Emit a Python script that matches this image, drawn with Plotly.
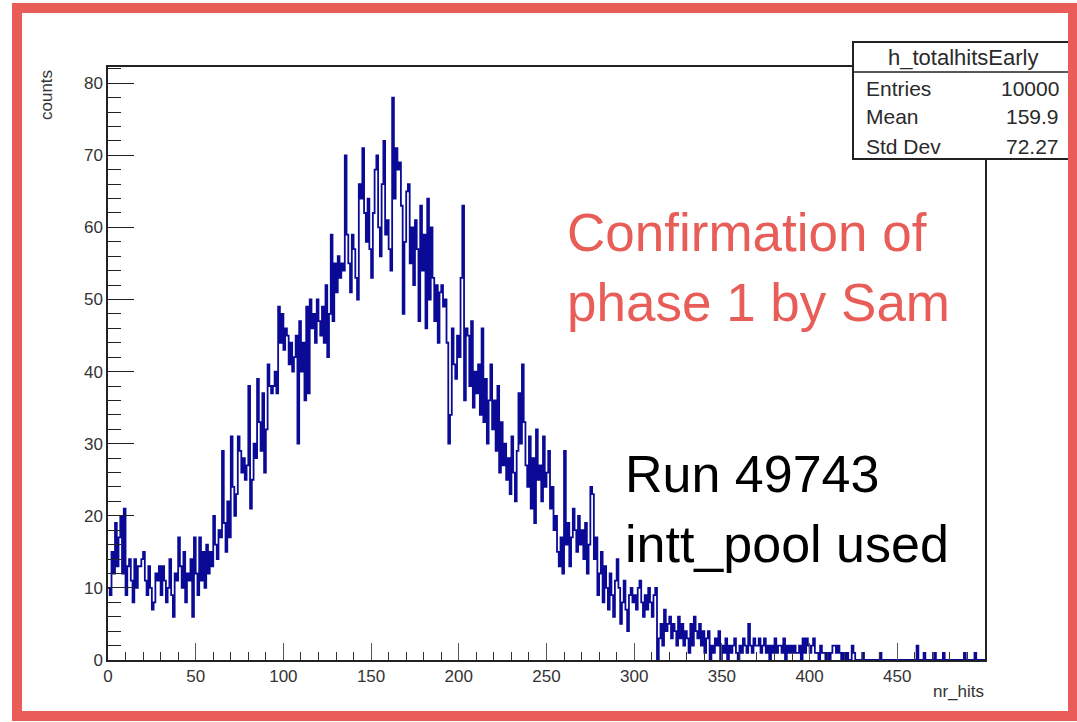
import numpy as np
import plotly.graph_objects as go

# Histogram h_totalhitsEarly: 500 bins of width 1 over nr_hits in [0, 500)
BIN_WIDTH = 1
counts = (
    [10, 9, 15, 12, 19, 13, 17, 20, 12, 21]
    + [9, 13, 14, 11, 8, 14, 10, 13, 13, 14]
    + [15, 11, 9, 13, 10, 7, 8, 12, 11, 13]
    + [9, 13, 11, 8, 10, 14, 9, 6, 12, 11]
    + [17, 13, 10, 15, 8, 12, 11, 14, 6, 17]
    + [12, 9, 17, 11, 15, 10, 16, 12, 15, 13]
    + [20, 16, 14, 18, 17, 29, 19, 15, 22, 17]
    + [31, 24, 20, 23, 31, 29, 26, 28, 25, 27]
    + [38, 21, 25, 30, 28, 39, 33, 29, 37, 26]
    + [32, 41, 38, 37, 38, 40, 37, 49, 44, 48]
    + [43, 46, 45, 41, 44, 40, 42, 45, 30, 47]
    + [40, 44, 36, 49, 37, 50, 46, 48, 44, 50]
    + [47, 45, 49, 44, 52, 42, 48, 59, 47, 55]
    + [51, 56, 53, 55, 54, 70, 59, 55, 51, 59]
    + [57, 53, 50, 66, 64, 71, 62, 58, 64, 57]
    + [53, 62, 68, 70, 60, 56, 66, 72, 59, 61]
    + [57, 54, 78, 64, 71, 68, 69, 63, 48, 58]
    + [65, 66, 55, 60, 52, 61, 57, 47, 63, 54]
    + [59, 46, 64, 50, 60, 53, 47, 52, 44, 51]
    + [52, 49, 50, 44, 30, 34, 46, 41, 39, 45]
    + [42, 53, 63, 36, 46, 45, 38, 47, 35, 40]
    + [37, 41, 34, 46, 33, 39, 30, 36, 41, 32]
    + [36, 29, 38, 26, 33, 27, 30, 25, 28, 23]
    + [31, 26, 22, 29, 37, 30, 41, 33, 27, 24]
    + [31, 21, 28, 19, 32, 25, 27, 22, 31, 24]
    + [26, 29, 21, 24, 18, 20, 15, 13, 17, 12]
    + [29, 16, 19, 13, 17, 21, 18, 15, 20, 16]
    + [18, 14, 19, 12, 16, 24, 23, 14, 17, 9]
    + [12, 15, 8, 13, 10, 7, 12, 9, 6, 11]
    + [14, 10, 5, 8, 11, 7, 4, 9, 10, 8]
    + [9, 7, 10, 11, 8, 6, 9, 7, 10, 8]
    + [6, 9, 10, 0, 3, 5, 2, 7, 4, 5]
    + [6, 3, 5, 4, 2, 6, 3, 5, 2, 4]
    + [3, 1, 5, 2, 6, 4, 3, 5, 2, 4]
    + [1, 3, 4, 0, 2, 1, 3, 2, 4, 0]
    + [2, 1, 3, 0, 2, 1, 2, 3, 1, 0]
    + [2, 1, 3, 2, 1, 5, 2, 1, 3, 2]
    + [2, 3, 1, 2, 3, 1, 2, 0, 2, 1]
    + [3, 1, 2, 2, 1, 3, 0, 2, 1, 2]
    + [1, 2, 1, 1, 2, 0, 3, 1, 3, 2]
    + [1, 2, 3, 1, 1, 0, 2, 1, 1, 0]
    + [1, 0, 1, 2, 2, 1, 2, 1, 0, 1]
    + [0, 1, 0, 0, 2, 1, 0, 0, 0, 0]
    + [1, 0, 0, 0, 0, 0, 0, 0, 0, 0]
    + [1, 0, 0, 0, 0, 0, 0, 0, 0, 0]
    + [0, 0, 0, 0, 0, 0, 0, 0, 0, 0]
    + [0, 2, 0, 0, 0, 1, 0, 0, 0, 0]
    + [0, 1, 0, 0, 0, 0, 1, 0, 0, 0]
    + [0, 0, 0, 0, 0, 0, 0, 0, 1, 0]
    + [0, 0, 0, 0, 1, 0, 0, 0, 0, 0]
)

x_ticks = [0, 50, 100, 150, 200, 250, 300, 350, 400, 450]
y_ticks = [0, 10, 20, 30, 40, 50, 60, 70, 80]

stats_title = "h_totalhitsEarly"
stats_labels = ["Entries", "Mean", "Std Dev"]
stats_values = ["10000", "159.9", "72.27"]

note_red = ["Confirmation of", "phase 1 by Sam"]
note_black = ["Run 49743", "intt_pool used"]

# Page geometry (pixels)
W, H = 1077, 722
L, R, T, B = 108, 985, 67, 660
PW, PH = R - L, B - T

def fx(px):
    return (px - L) / PW

def fy(py):
    return (B - py) / PH

FONT = "Liberation Sans, Arial, Helvetica, sans-serif"
RED = "#e85d57"
HIST_BLUE = "#0a0a96"
INK = "#2a2a2a"

nbins = len(counts)
edges = np.arange(nbins + 1) * BIN_WIDTH
y_step = list(counts) + [counts[-1]]

fig = go.Figure()
fig.add_trace(go.Scatter(
    x=edges, y=y_step, mode="lines", line_shape="hv",
    line=dict(color=HIST_BLUE, width=1.8), hoverinfo="skip", showlegend=False,
))

fig.update_layout(
    width=W, height=H,
    margin=dict(l=L, r=W - R, t=T, b=H - B),
    paper_bgcolor="white", plot_bgcolor="white",
    font=dict(family=FONT, color=INK),
    xaxis=dict(
        range=[0, nbins * BIN_WIDTH], tickvals=x_ticks,
        ticks="inside", ticklen=17, tickcolor="#555", tickwidth=1,
        minor=dict(dtick=10, ticks="inside", ticklen=8, tickcolor="#333"),
        showline=True, linecolor="#222", linewidth=1.5, mirror=True,
        showgrid=False, zeroline=False,
        tickfont=dict(size=17, color="#333"),
    ),
    yaxis=dict(
        range=[0, (B - T) / 7.21], tickvals=y_ticks,
        ticks="inside", ticklen=26, tickcolor="#222", tickwidth=1,
        minor=dict(dtick=2, ticks="inside", ticklen=13, tickcolor="#222"),
        showline=True, linecolor="#222", linewidth=1.5, mirror=True,
        showgrid=False, zeroline=False,
        tickfont=dict(size=17, color="#333"),
    ),
)

annotations = [
    dict(text="counts", textangle=-90, x=fx(47), y=fy(68), xanchor="center",
         yanchor="top", font=dict(size=17, color="#333")),
    dict(text="nr_hits", x=fx(986), y=fy(680), xanchor="right", yanchor="top",
         font=dict(size=17, color="#333")),
]

# Stats box
bx0, bx1, by0, by1, bsep = 853, 1072, 42, 159, 72
fig.add_shape(type="rect", xref="paper", yref="paper",
              x0=fx(bx0), x1=fx(bx1), y0=fy(by1), y1=fy(by0),
              fillcolor="white", line=dict(color="#222", width=2), layer="above")
fig.add_shape(type="line", xref="paper", yref="paper",
              x0=fx(bx0), x1=fx(bx1), y0=fy(bsep), y1=fy(bsep),
              line=dict(color="#222", width=1.5), layer="above")
annotations.append(dict(text=stats_title, x=fx((bx0 + bx1) / 2), y=fy(57),
                        xanchor="center", yanchor="middle",
                        font=dict(size=22, color=INK)))
for i, (lab, val) in enumerate(zip(stats_labels, stats_values)):
    yy = fy(88 + 29 * i)
    annotations.append(dict(text=lab, x=fx(864), y=yy, xanchor="left",
                            yanchor="middle", font=dict(size=21, color=INK)))
    annotations.append(dict(text=val, x=fx(1061), y=yy, xanchor="right",
                            yanchor="middle", font=dict(size=21, color=INK)))

# Notes written on the plot
for i, line in enumerate(note_red):
    annotations.append(dict(text=line, x=fx(565), y=fy(232 + 70 * i),
                            xanchor="left", yanchor="middle",
                            font=dict(size=53, color=RED)))
for i, line in enumerate(note_black):
    annotations.append(dict(text=line, x=fx(623), y=fy(474 + 70 * i),
                            xanchor="left", yanchor="middle",
                            font=dict(size=52, color="black")))

for a in annotations:
    a.setdefault("xref", "paper")
    a.setdefault("yref", "paper")
    a.setdefault("showarrow", False)
fig.update_layout(annotations=annotations)

# Red outer frame
fig.add_shape(type="rect", xref="paper", yref="paper",
              x0=fx(17), x1=fx(1073), y0=fy(716), y1=fy(8),
              line=dict(color=RED, width=10), fillcolor="rgba(0,0,0,0)",
              layer="above")

fig.write_html("out.html")
